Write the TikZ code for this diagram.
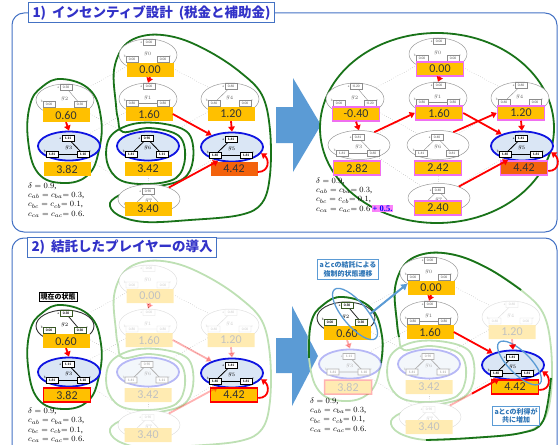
\documentclass[tikz,border=0pt]{standalone}
\usepackage{fontspec}
\setmainfont{Liberation Serif}
\newfontfamily\carl{Carlito}
\newfontfamily\jp{Noto Sans CJK JP}
\usetikzlibrary{arrows.meta,shapes.geometric,calc}
\pgfdeclarelayer{bg}
\pgfsetlayers{bg,main}
\definecolor{orng}{RGB}{255,192,0}
\definecolor{orred}{RGB}{243,98,12}
\definecolor{pnk}{RGB}{240,110,240}
\definecolor{plusf}{RGB}{250,130,250}
\definecolor{bfill}{RGB}{218,230,245}
\definecolor{bline}{RGB}{15,20,225}
\definecolor{grn}{RGB}{25,115,25}
\definecolor{lgrn}{RGB}{190,224,180}
\definecolor{frm}{RGB}{68,114,196}
\definecolor{ttl}{RGB}{50,50,200}
\definecolor{barr}{RGB}{91,155,213}
\definecolor{dgr}{RGB}{56,87,35}
\definecolor{ann}{RGB}{46,117,182}
\tikzset{
 szA/.style={ellipse, minimum width=58pt, minimum height=32pt, inner sep=0pt},
 szB/.style={ellipse, minimum width=62pt, minimum height=29pt, inner sep=0pt},
 ellG/.style={draw=black!40, line width=0.5pt, fill=white},
 ellU/.style={draw=bline, line width=1.8pt, fill=bfill},
 ellC/.style={draw=black!80, line width=0.9pt, fill=white},
 sbbase/.style={minimum width=12pt, minimum height=6pt, inner sep=0pt, fill=white},
 sbG/.style={sbbase, draw=black!45, line width=0.4pt, font=\carl\fontsize{3.6}{4}\selectfont, text=black!70},
 sbU/.style={sbbase, draw=black, line width=0.8pt, font=\carl\bfseries\fontsize{3.6}{4}\selectfont},
 sbC/.style={sbbase, draw=dgr, line width=1pt, font=\carl\bfseries\fontsize{3.6}{4}\selectfont},
 lkG/.style={black!45, line width=0.4pt},
 lkU/.style={black, line width=0.8pt},
 lkC/.style={black!85, line width=0.8pt},
 ltG/.style={inner sep=0.2pt, font=\fontsize{3.5}{4}\selectfont, text=black!60},
 ltU/.style={inner sep=0.2pt, font=\fontsize{3.5}{4}\selectfont, text=black},
 ltC/.style={ltU},
 lbG/.style={inner sep=0pt, font=\fontsize{6}{6}\selectfont, text=black!60},
 lbU/.style={inner sep=0pt, font=\fontsize{6}{6}\selectfont, text=black},
 lbC/.style={lbU},
 val/.style={fill=orng, minimum width=47pt, minimum height=14pt, inner sep=0pt, font=\carl\fontsize{12}{12}\selectfont, text=black!80},
 pkb/.style={draw=pnk, line width=1.5pt},
 rdb/.style={draw=red, line width=1.5pt},
 rarr/.style={red, line width=1.8pt, -{Triangle[length=5pt,width=6.5pt]}},
 latt/.style={black!45, line width=0.4pt, dotted},
 gl/.style={grn, line width=1.8pt},
 lgl/.style={lgrn, line width=1.8pt},
 fade/.style={transparency group, opacity=0.3},
 ttlbox/.style={draw=frm, line width=1pt, fill=white, anchor=west, minimum height=20pt, inner xsep=4pt, inner ysep=0pt, text=ttl, font=\jp\bfseries\fontsize{13.5}{14}\selectfont},
 annbox/.style={draw=barr, line width=0.9pt, fill=white, align=center, inner sep=2pt, text=ann, font=\jp\bfseries\fontsize{7}{8.5}\selectfont},
 selell/.style={draw=barr, line width=1.3pt, ellipse, inner sep=0pt},
 barrow/.style={barr, line width=2pt, -{Triangle[length=6pt,width=7pt]}},
 curbox/.style={draw=black, line width=0.9pt, fill=white, inner sep=1.5pt, font=\jp\bfseries\fontsize{7}{8}\selectfont},
 ptxt/.style={inner sep=0pt, anchor=base west, font=\fontsize{8.5}{9}\selectfont},
 plusb/.style={fill=plusf, inner sep=1pt, text=blue, font=\bfseries\fontsize{8.5}{9}\selectfont, anchor=base west}
}
\newcommand\gA{\tikzset{szX/.style={szA}}\def\qax{1}\def\qay{-12.5}\def\qbx{-16}\def\qby{4}\def\qcx{15}\def\qcy{4}\def\qlx{0}\def\qly{-1}\def\qrx{29}\def\qry{16}}
\newcommand\gB{\tikzset{szX/.style={szB}}\def\qax{-1}\def\qay{-7.5}\def\qbx{-17}\def\qby{8}\def\qcx{14}\def\qcy{8}\def\qlx{0}\def\qly{2}\def\qrx{31}\def\qry{14.5}}
\newcommand\gn[9]{%
  \node[szX,ell#9] (#1) at (#2,#3) {};
  \coordinate (#1-pa) at (#2+\qax,#3+\qay);
  \coordinate (#1-pb) at (#2+\qbx,#3+\qby);
  \coordinate (#1-pc) at (#2+\qcx,#3+\qcy);
  \foreach \p/\q in {#8}{\draw[lk#9] (#1-p\p) -- (#1-p\q);}
  \node[sb#9] (#1-a) at (#1-pa) {#4};
  \node[sb#9] (#1-b) at (#1-pb) {#5};
  \node[sb#9] (#1-c) at (#1-pc) {#6};
  \node[lt#9,anchor=east] (#1-la) at (#2+\qax-6.3,#3+\qay) {a};
  \node[lt#9,anchor=south east] (#1-lb) at (#2+\qbx-6,#3+\qby-1) {b};
  \node[lt#9,anchor=south west] (#1-lc) at (#2+\qcx+6,#3+\qcy-1) {c};
  \node[lb#9] (#1-g) at (#2+\qlx,#3+\qly) {$g_{#7}$};
}
% white backing under a faded node: ellipse centre, value-box centre
\newcommand\wb[4]{\fill[white] (#1,#2) ellipse [x radius=\qrx pt, y radius=\qry pt]; \fill[white] (#3-23.5,#4-7) rectangle (#3+23.5,#4+7);}
\newcommand\selfloop[1]{\draw[rarr] ([yshift=-3pt]#1v.east) .. controls +(12,0) and +(8,6) .. (#1.-12);}
\newcommand\prms[4]{%
 \node[ptxt] (#1-1) at (#2,#3) {$\delta = 0.9$,};
 \node[ptxt] (#1-2) at (#2,#3+9.4) {$c_{ab} = c_{ba}{=}\ 0.3$,};
 \node[ptxt] (#1-3) at (#2,#3+18.8) {$c_{bc} = c_{cb}{=}\ 0.1$,};
 \node[ptxt] (#1-4) at (#2,#3+28.2) {$c_{ca} = c_{ac}{=}\ 0.6$#4};
}
\newcommand\loopA{plot[smooth cycle, tension=0.7] coordinates {(62,79) (90,90) (101,118) (99,150) (88,175) (63,183) (38,173) (28,140) (30,105) (42,87)}}
\newcommand\loopB{plot[smooth cycle, tension=0.6] coordinates {(116,105) (114,70) (125,45) (148,35) (178,38) (210,52) (240,72) (262,95) (270,130) (270,175) (262,203) (240,215) (190,220) (145,222) (118,215) (110,203) (125,193) (155,187) (183,179) (193,160) (189,134) (165,124) (133,124) (110,137) (107,162) (120,180) (148,184) (176,178) (185,158) (179,136) (150,128) (123,132) (118,119)}}
\begin{document}
\begin{tikzpicture}[x=1pt,y=-1pt]
\useasboundingbox (0,0) rectangle (559,444);
\clip (0,0) rectangle (559,444);
\draw[frm, line width=1pt, rounded corners=12pt] (12,13) rectangle (557,232);
\draw[frm, line width=1pt, rounded corners=12pt] (12,238) rectangle (557,470);
\fill[barr] (276,107) -- (293,107) -- (293,78) -- (321,125) -- (293,172) -- (293,143) -- (276,143) -- cycle;
\fill[barr] (276,338) -- (292,338) -- (292,306) -- (318,356) -- (292,406) -- (292,373) -- (276,373) -- cycle;
\node[ttlbox] (t1) at (28,13) {1)\hspace{6pt}インセンティブ設計\hspace{6pt}(税金と補助金)};
\node[ttlbox] (t2) at (27,247) {2)\hspace{6pt}結託したプレイヤーの導入};

%%%%% Panel 1 left
\draw[gl] \loopA;
\draw[gl] \loopB;
\gA
\gn{a0}{148}{55}{0.00}{0.00}{0.00}{0}{a/a}{G}
\gn{a1}{148}{99}{0.00}{0.80}{0.80}{1}{b/c}{G}
\gn{a2}{65}{100}{0.30}{0.00}{0.30}{2}{a/c}{G}
\gn{a4}{230}{99}{0.60}{0.60}{0.00}{4}{a/b}{G}
\gB
\gn{a3}{69}{146}{1.11}{1.61}{1.10}{3}{a/c,b/c}{U}
\gn{a6}{148}{146}{0.90}{1.41}{1.11}{6}{a/b,a/c}{U}
\gn{a5}{232}{147}{1.41}{1.40}{1.61}{5}{a/b,b/c}{U}
\gn{a7}{149}{199}{0.90}{1.31}{1.19}{7}{a/b,a/c,b/c}{G}
\node[val] (a0v) at (150,70) {0.00};
\node[val] (a1v) at (149,114) {1.60};
\node[val] (a2v) at (66,115) {0.60};
\node[val] (a4v) at (231,114) {1.20};
\node[val] (a3v) at (67,169) {3.82};
\node[val] (a6v) at (148,169) {3.42};
\node[val,fill=orred] (a5v) at (234,169) {4.42};
\node[val] (a7v) at (148,209) {3.40};
\draw[rarr] (a0v.south) -- (a1.north);
\draw[rarr] (a2v.south) -- (a3.north);
\draw[rarr] (a4v.south) -- (a5.north);
\draw[rarr] (a1v.east) -- (a5.150);
\draw[rarr] (a7.30) -- (a5.225);
\selfloop{a5}
\prms{ap}{28}{188}{.}

%%%%% Panel 1 right
\begin{scope}[shift={(290,-1)}]
\draw[gl] (147,129) ellipse [x radius=117pt, y radius=95pt];
\gA
\gn{b0}{148}{55}{0.00}{0.00}{0.00}{0}{a/a}{G}
\gn{b1}{148}{99}{0.00}{0.80}{0.80}{1}{b/c}{G}
\gn{b2}{65}{100}{-0.20}{0.00}{-0.20}{2}{a/c}{G}
\gn{b4}{230}{99}{0.60}{0.60}{0.00}{4}{a/b}{G}
\gB
\gn{b3}{69}{146}{0.61}{1.61}{0.60}{3}{a/c,b/c}{G}
\gn{b6}{148}{146}{0.40}{1.41}{0.61}{6}{a/b,a/c}{G}
\gn{b5}{232}{147}{1.41}{1.40}{1.61}{5}{a/b,b/c}{U}
\gn{b7}{149}{199}{0.40}{0.91}{1.09}{7}{a/b,a/c,b/c}{G}
\node[val,pkb] (b0v) at (150,70) {0.00};
\node[val,pkb] (b1v) at (149,114) {1.60};
\node[val,pkb] (b2v) at (66,115) {-0.40};
\node[val,pkb] (b4v) at (231,114) {1.20};
\node[val,pkb] (b3v) at (67,169) {2.82};
\node[val,pkb] (b6v) at (148,169) {2.42};
\node[val,pkb,fill=orred] (b5v) at (234,169) {4.42};
\node[val,pkb] (b7v) at (148,209) {2.40};
\draw[rarr] (b0v.south) -- (b1.north);
\draw[rarr] (b2v.south) -- (b3.north);
\draw[rarr] (b4v.south) -- (b5.north);
\draw[rarr] (b1v.east) -- (b5.150);
\draw[rarr] (b3.40) -- (b1v.west);
\draw[rarr] (b6.40) -- (b4v.west);
\draw[rarr] (b7.30) -- (b5.225);
\selfloop{b5}
\prms{bp}{26}{184}{}
\node[plusb] (bplus) at ([xshift=1pt]bp-4.base east) {+ 0.5.};
\end{scope}

%%%%% Panel 2 left
\begin{scope}[shift={(0,226)}]
\draw[lgl] \loopB;
\draw[gl] \loopA;
\gA
\wb{148}{55}{150}{70}
\begin{scope}[fade]
\gn{c0}{148}{55}{0.00}{0.00}{0.00}{0}{a/a}{G}
\node[val] (c0v) at (150,70) {0.00};
\end{scope}
\wb{148}{99}{149}{114}
\begin{scope}[fade]
\gn{c1}{148}{99}{0.00}{0.80}{0.80}{1}{b/c}{G}
\node[val] (c1v) at (149,114) {1.60};
\end{scope}
\wb{230}{99}{231}{114}
\begin{scope}[fade]
\gn{c4}{230}{99}{0.60}{0.60}{0.00}{4}{a/b}{G}
\node[val] (c4v) at (231,114) {1.20};
\end{scope}
\gn{c2}{65}{100}{0.30}{0.00}{0.30}{2}{a/c}{C}
\node[val] (c2v) at (66,115) {0.60};
\gB
\wb{148}{146}{148}{169}
\begin{scope}[fade]
\gn{c6}{148}{146}{0.90}{1.41}{1.11}{6}{a/b,a/c}{U}
\node[val] (c6v) at (148,169) {3.42};
\end{scope}
\wb{149}{199}{148}{209}
\begin{scope}[fade]
\gn{c7}{149}{199}{0.90}{1.31}{1.19}{7}{a/b,a/c,b/c}{G}
\node[val] (c7v) at (148,209) {3.40};
\end{scope}
\gn{c3}{69}{146}{1.11}{1.61}{1.10}{3}{a/c,b/c}{U}
\node[val,rdb] (c3v) at (67,169) {3.82};
\gn{c5}{232}{147}{1.41}{1.40}{1.61}{5}{a/b,b/c}{U}
\node[val,rdb] (c5v) at (234,169) {4.42};
\draw[rarr] (c2v.south) -- (c3.north);
\begin{scope}[opacity=0.3]
\draw[rarr] (c0v.south) -- (c1.north);
\draw[rarr] (c4v.south) -- (c5.north);
\draw[rarr] (c1v.east) -- (c5.150);
\draw[rarr] (c7.30) -- (c5.225);
\end{scope}
\selfloop{c5}
\node[curbox] (cur) at (58,71) {現在の状態};
\prms{cp}{28}{187.5}{.}
\end{scope}

%%%%% Panel 2 right
\begin{scope}[shift={(281,218)}]
\draw[lgl] \loopA;
\draw[gl] plot[smooth, tension=0.7] coordinates {(28,140) (30,105) (42,87) (62,79) (90,90) (101,118) (100,145)};
\draw[lgl] \loopB;
\draw[gl] plot[smooth, tension=0.6] coordinates {(118,119) (116,105) (114,70) (125,45) (148,35) (178,38) (210,52) (240,72)};
\draw[gl] plot[smooth, tension=0.6] coordinates {(270,160) (262,203) (240,215) (190,220) (145,222)};
\gA
\gn{d0}{148}{55}{0.00}{0.00}{0.00}{0}{a/a}{G}
\node[val] (d0v) at (150,70) {0.00};
\gn{d1}{148}{99}{0.00}{0.80}{0.80}{1}{b/c}{G}
\node[val] (d1v) at (149,114) {1.60};
\gn{d2}{65}{100}{0.30}{0.00}{0.30}{2}{a/c}{C}
\node[val] (d2v) at (66,115) {0.60};
\wb{230}{99}{231}{114}
\begin{scope}[fade]
\gn{d4}{230}{99}{0.60}{0.60}{0.00}{4}{a/b}{G}
\node[val] (d4v) at (231,114) {1.20};
\end{scope}
\gB
\wb{69}{146}{67}{169}
\begin{scope}[fade]
\gn{d3}{69}{146}{1.11}{1.61}{1.10}{3}{a/c,b/c}{U}
\node[val,rdb] (d3v) at (67,169) {3.82};
\end{scope}
\wb{148}{146}{148}{169}
\begin{scope}[fade]
\gn{d6}{148}{146}{0.90}{1.41}{1.11}{6}{a/b,a/c}{U}
\node[val] (d6v) at (148,169) {3.42};
\end{scope}
\wb{149}{199}{148}{209}
\begin{scope}[fade]
\gn{d7}{149}{199}{0.90}{1.31}{1.19}{7}{a/b,a/c,b/c}{G}
\node[val] (d7v) at (148,209) {3.40};
\end{scope}
\gn{d5}{232}{147}{1.41}{1.40}{1.61}{5}{a/b,b/c}{U}
\node[val,rdb] (d5v) at (234,169) {4.42};
\node[selell, minimum width=64pt, minimum height=24pt, rotate=-50] (ds2) at (74,96) {};
\node[selell, minimum width=58pt, minimum height=22pt, rotate=-45] (ds5) at (238.5,145) {};
\draw[rarr] (d0v.south) -- (d1.north);
\draw[rarr] (d1v.east) -- (d5.150);
\begin{scope}[opacity=0.3]
\draw[rarr] (d2v.south) -- (d3.north);
\draw[rarr] (d4v.south) -- (d5.north);
\draw[rarr] (d7.30) -- (d5.225);
\end{scope}
\draw[rarr] ($(d4v.south)!0.55!(d5.north)$) -- (d5.north);
\draw[rarr] ($(d7.30)!0.45!(d5.225)$) -- (d5.225);
\selfloop{d5}
\coordinate (bst) at (89,96);
\draw[barrow] (bst) -- (d0v.170);
\node[annbox] (ann1) at (67,51.5) {aとcの結託による\\強制的状態遷移};
\node[annbox] (ann2) at (235,198) {aとcの利得が\\共に増加};
\prms{dp}{29}{185}{.}
\end{scope}

\begin{pgfonlayer}{bg}
\foreach \pp in {a,b,c,d}{
 \foreach \u/\v in {0/1,0/2,0/4,1/3,1/5,2/3,2/6,4/5,4/6,3/7,5/7,6/7}{\draw[latt] (\pp\u) -- (\pp\v);}
}
\end{pgfonlayer}
\end{tikzpicture}
\end{document}
